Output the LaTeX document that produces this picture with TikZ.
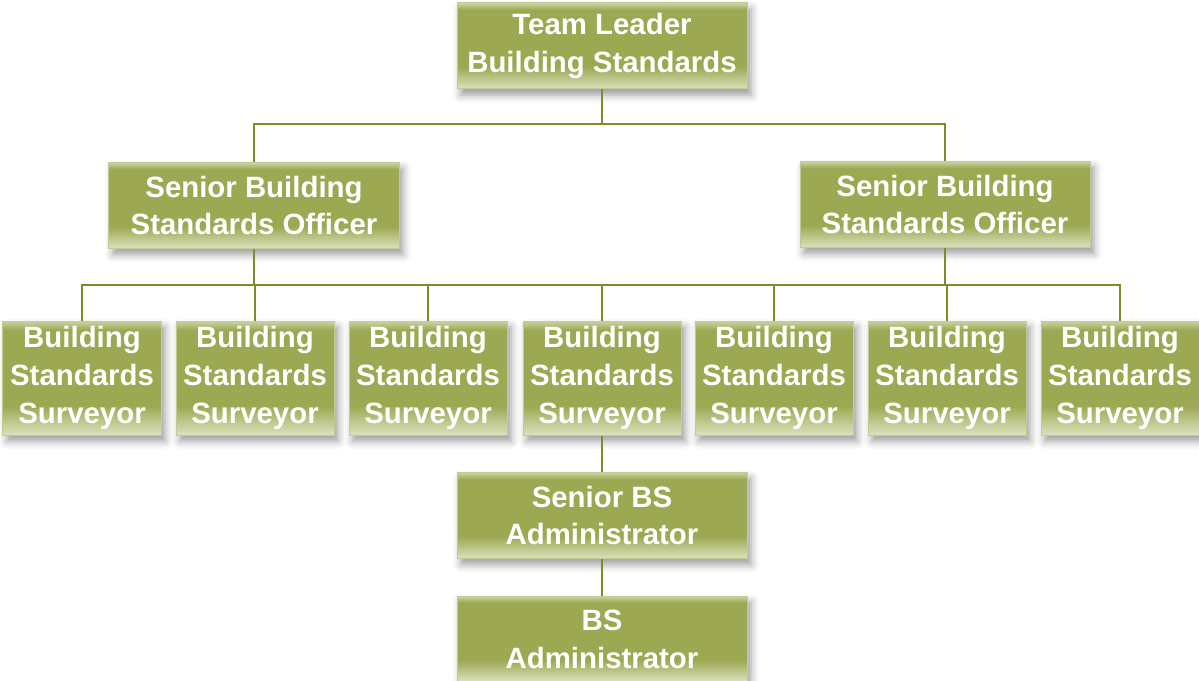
\documentclass[tikz,border=0pt]{standalone}
\usepackage{fontspec}
\setmainfont{Liberation Sans}
\usetikzlibrary{shadows.blur}
\definecolor{olivemain}{HTML}{9CA852}
\definecolor{olivelight}{HTML}{DCE1BE}
\definecolor{olivetop}{HTML}{CDD4A4}
\definecolor{oliveedge}{HTML}{C3CB94}
\definecolor{oliveline}{HTML}{7C8D2C}
\pgfdeclareverticalshading{boxshade}{100bp}{color(0bp)=(olivelight); color(25bp)=(olivelight); color(38bp)=(olivemain); color(71bp)=(olivemain); color(75bp)=(olivetop); color(100bp)=(olivetop)}
\tikzset{
  orgbox/.style={shading=boxshade, draw=oliveedge, line width=1bp, inner sep=0pt,
    align=center, text=white, font=\fontsize{29.5}{38}\selectfont\bfseries,
    blur shadow={shadow xshift=4bp, shadow yshift=-6bp, shadow blur radius=8bp, shadow opacity=40}},
  wide/.style={orgbox, minimum width=290bp, minimum height=86bp},
  narrow/.style={orgbox, minimum width=158bp, minimum height=114bp},
  link/.style={draw=oliveline, line width=2.8bp}
}
\begin{document}
\begin{tikzpicture}[x=1bp,y=-1bp]
\useasboundingbox (0,0) rectangle (1199,681);
\node[wide] (tl) at (602,46) {Team Leader\\Building Standards};
\node[wide] (s1) at (254,205.5) {Senior Building\\Standards Officer};
\node[wide] (s2) at (945,204.5) {Senior Building\\Standards Officer};
\foreach \i/\x in {1/82,2/255,3/428,4/602,5/774,6/947,7/1120}{
  \node[narrow] (b\i) at (\x,378) {Building\\Standards\\Surveyor};
}
\node[wide] (sa) at (602,515.5) {Senior BS\\Administrator};
\node[wide] (ba) at (602,639) {BS\\Administrator};
\coordinate (j1) at (602,124);
\coordinate (j2) at (602,285);
\draw[link] (tl.south) -- (j1);
\draw[link] (s1.north) |- (j1) -| (s2.north);
\draw[link] (s1.south) |- (j2);
\draw[link] (s2.south) |- (j2);
\draw[link] (b1.north) |- (j2) -| (b7.north);
\draw[link] (j2) -- (b4.north);
\foreach \i in {2,3,5,6}{ \draw[link] (b\i.north) -- ++(0,-36); }
\draw[link] (b4.south) -- (sa.north);
\draw[link] (sa.south) -- (ba.north);
\end{tikzpicture}
\end{document}
